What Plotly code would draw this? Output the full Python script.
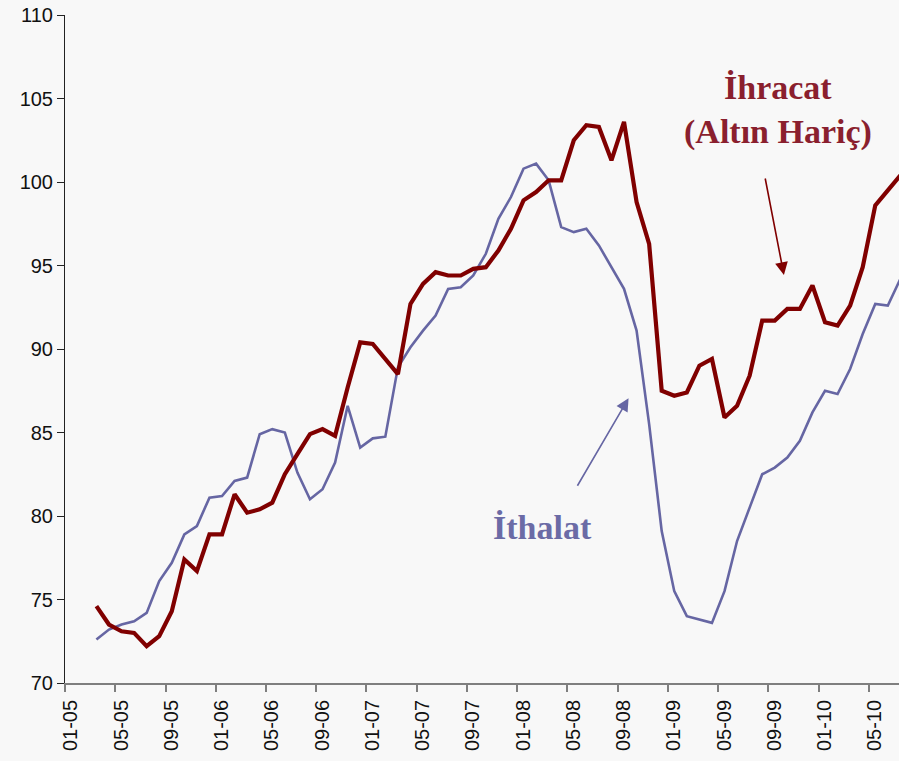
import plotly.graph_objects as go

# Monthly observations, March 2005 .. July 2010
months = [f"{y}-{m:02d}" for y in range(2005, 2011) for m in range(1, 13)]
months = months[months.index("2005-03"):months.index("2010-07") + 1]

ihracat = [74.6, 73.5, 73.1, 73.0, 72.2, 72.8, 74.3, 77.4, 76.7, 78.9,
           78.9, 81.3, 80.2, 80.4, 80.8, 82.5, 83.7, 84.9, 85.2, 84.8,
           87.7, 90.4, 90.3, 89.4, 88.5, 92.7, 93.9, 94.6, 94.4, 94.4,
           94.8, 94.9, 95.9, 97.2, 98.9, 99.4, 100.1, 100.1, 102.5, 103.4,
           103.3, 101.3, 103.6, 98.8, 96.3, 87.5, 87.2, 87.4, 89.0, 89.4,
           85.9, 86.6, 88.4, 91.7, 91.7, 92.4, 92.4, 93.8, 91.6, 91.4,
           92.6, 94.9, 98.6, 99.5, 100.4]

ithalat = [72.6, 73.2, 73.5, 73.7, 74.2, 76.1, 77.2, 78.9, 79.4, 81.1,
           81.2, 82.1, 82.3, 84.9, 85.2, 85.0, 82.6, 81.0, 81.6, 83.2,
           86.6, 84.1, 84.65, 84.75, 88.9, 90.1, 91.1, 92.0, 93.6, 93.7,
           94.4, 95.7, 97.8, 99.1, 100.8, 101.1, 100.1, 97.3, 97.0, 97.2,
           96.2, 94.9, 93.6, 91.1, 85.5, 79.1, 75.5, 74.0, 73.8, 73.6,
           75.5, 78.5, 80.5, 82.5, 82.9, 83.5, 84.5, 86.2, 87.5, 87.3,
           88.8, 90.9, 92.7, 92.6, 94.2]

tick_labels = ["01-05", "05-05", "09-05", "01-06", "05-06", "09-06",
               "01-07", "05-07", "09-07", "01-08", "05-08", "09-08",
               "01-09", "05-09", "09-09", "01-10", "05-10"]


def month_index(s):
    y, m = s.split("-")
    return (int(y) - 2005) * 12 + int(m) - 1


x = [month_index(s) for s in months]
tickvals = [month_index("20" + t[3:] + "-" + t[:2]) - 0.5 for t in tick_labels]

RED = "#800000"
BLUE = "#6666a3"

fig = go.Figure()
fig.add_trace(go.Scatter(x=x, y=ithalat, mode="lines", name="İthalat",
                         line=dict(color=BLUE, width=2.6)))
fig.add_trace(go.Scatter(x=x, y=ihracat, mode="lines", name="İhracat",
                         line=dict(color=RED, width=4.2)))

font_ax = dict(family="Arial, Liberation Sans, sans-serif", size=20, color="#111111")

fig.update_layout(
    width=899, height=761,
    margin=dict(l=65, r=0, t=15, b=78),
    paper_bgcolor="#f8f8f8", plot_bgcolor="#f8f8f8",
    showlegend=False,
    xaxis=dict(range=[-0.5, 65.89], tickvals=tickvals, ticktext=tick_labels,
               tickangle=-90, ticks="outside", ticklen=7, tickcolor="#7f7f7f",
               tickwidth=1.5, showgrid=False, zeroline=False,
               showline=True, linecolor="#7f7f7f", linewidth=1.8,
               ticklabelshift=6, tickfont=font_ax),
    yaxis=dict(range=[70, 110], tickvals=list(range(70, 111, 5)),
               ticks="outside", ticklen=7, tickcolor="#222222", tickwidth=1,
               showgrid=False, zeroline=False, showline=True,
               linecolor="#222222", linewidth=1, tickfont=font_ax),
)

serif = "Times New Roman, Liberation Serif, serif"
fig.add_annotation(xref="paper", yref="paper", x=(778 - 65) / 834, y=(683 - 88) / 668,
                   text="<b>İhracat</b>", showarrow=False, xanchor="center", yanchor="middle",
                   font=dict(family=serif, size=34, color="#8a1f2e"))
fig.add_annotation(xref="paper", yref="paper", x=(778 - 65) / 834, y=(683 - 132) / 668,
                   text="<b>(Altın Hariç)</b>", showarrow=False, xanchor="center", yanchor="middle",
                   font=dict(family=serif, size=34, color="#8a1f2e"))
fig.add_annotation(xref="paper", yref="paper", x=(542 - 65) / 834, y=(683 - 527) / 668,
                   text="<b>İthalat</b>", showarrow=False, xanchor="center", yanchor="middle",
                   font=dict(family=serif, size=34, color="#6b6ba6"))

# arrows
fig.add_annotation(x=56.73, y=94.43, ax=-19, ay=-98, text="", showarrow=True,
                   arrowhead=2, arrowsize=1.6, arrowwidth=1.6, arrowcolor=RED)
fig.add_annotation(x=44.36, y=87.05, ax=-52, ay=89, text="", showarrow=True,
                   arrowhead=2, arrowsize=1.6, arrowwidth=1.6, arrowcolor=BLUE)

fig.write_html("out.html", config={"displayModeBar": False},
               post_script="document.body.style.margin='0';document.body.style.overflow='hidden';")
